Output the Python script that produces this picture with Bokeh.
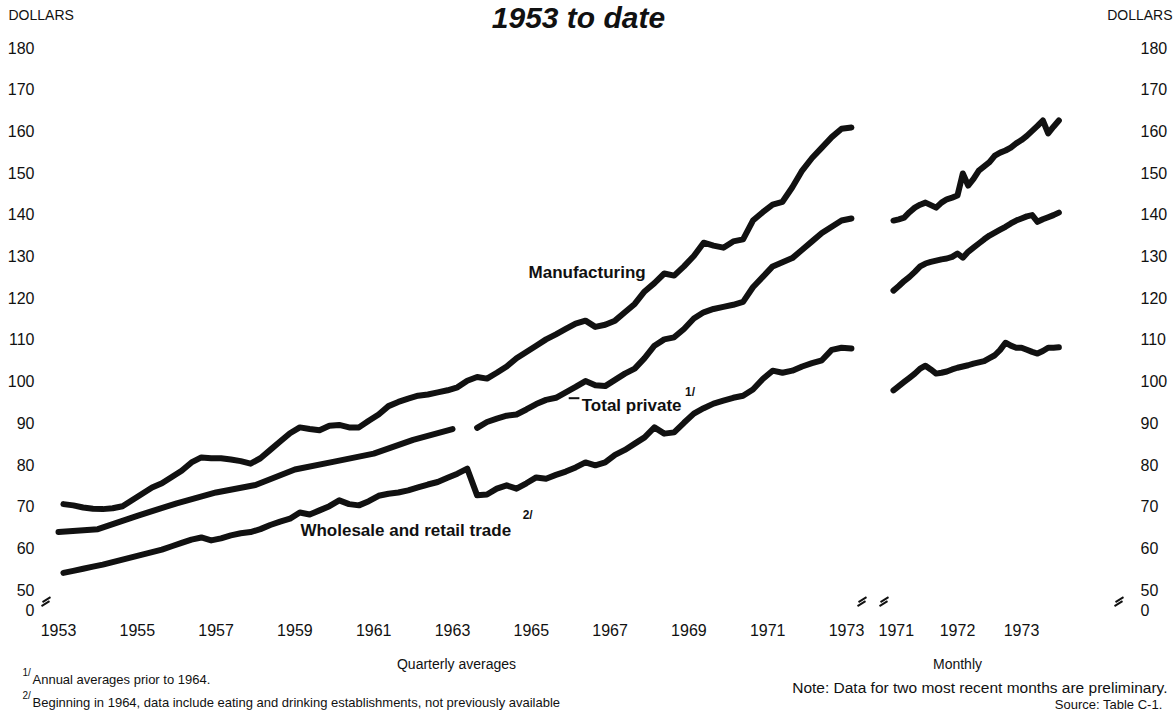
from bokeh.plotting import figure
from bokeh.layouts import column, row
from bokeh.models import Label, FixedTicker
from bokeh.embed import file_html
from bokeh.resources import INLINE

# ---------------- data ----------------
# Quarterly averages, 1953 Q3 - 1973 Q3
quarter_first = 1953.625          # mid-point of 1953 Q3
manufacturing_q = [
    70.5, 70.2,                 # 1953 Q3-Q4
    69.7, 69.4, 69.3, 69.5,     # 1954
    70.0, 71.5, 73.0, 74.5,     # 1955
    75.5, 77.0, 78.5, 80.5,     # 1956
    81.7, 81.5, 81.5, 81.2,     # 1957
    80.8, 80.2, 81.5, 83.5,     # 1958
    85.5, 87.5, 88.9, 88.5,     # 1959
    88.2, 89.3, 89.5, 88.9,     # 1960
    88.9, 90.5, 92.0, 94.0,     # 1961
    95.0, 95.8, 96.5, 96.8,     # 1962
    97.3, 97.8, 98.5, 100.1,    # 1963
    101.0, 100.6, 102.0, 103.5, # 1964
    105.5, 107.0, 108.5, 110.0, # 1965
    111.2, 112.5, 113.8, 114.5, # 1966
    113.0, 113.5, 114.5, 116.5, # 1967
    118.5, 121.5, 123.5, 125.8, # 1968
    125.3, 127.5, 130.0, 133.2, # 1969
    132.5, 132.0, 133.5, 134.0, # 1970
    138.5, 140.5, 142.3, 143.0, # 1971
    146.5, 150.5, 153.5, 156.0, # 1972
    158.5, 160.5, 160.8,        # 1973
]
wholesale_retail_q = [
    54.0, 54.5,                 # 1953 Q3-Q4
    55.0, 55.5, 56.0, 56.6,     # 1954
    57.2, 57.8, 58.4, 59.0,     # 1955
    59.6, 60.4, 61.2, 62.0,     # 1956
    62.5, 61.8, 62.3, 63.0,     # 1957
    63.5, 63.8, 64.5, 65.5,     # 1958
    66.3, 67.0, 68.5, 68.0,     # 1959
    69.0, 70.0, 71.4, 70.5,     # 1960
    70.2, 71.2, 72.5, 73.0,     # 1961
    73.3, 73.8, 74.5, 75.2,     # 1962
    75.8, 76.8, 77.8, 79.0,     # 1963
    72.6, 72.8, 74.2, 75.0,     # 1964
    74.2, 75.5, 76.9, 76.6,     # 1965
    77.5, 78.3, 79.3, 80.5,     # 1966
    79.8, 80.5, 82.3, 83.5,     # 1967
    85.0, 86.5, 88.9, 87.4,     # 1968
    87.7, 90.0, 92.2, 93.5,     # 1969
    94.6, 95.3, 96.0, 96.5,     # 1970
    98.0, 100.5, 102.5, 102.0,  # 1971
    102.5, 103.5, 104.3, 105.0, # 1972
    107.5, 108.0, 107.8,        # 1973
]
# Total private: annual averages prior to 1964, quarterly from 1964 Q1
total_private_annual_years = list(range(1953, 1964))
total_private_annual = [63.8, 64.5, 67.7, 70.7, 73.3, 75.1, 78.8, 80.7, 82.6, 85.9, 88.5]
total_private_q_first = 1964.125  # mid-point of 1964 Q1
total_private_q = [
    88.8, 90.2, 91.0, 91.7,     # 1964
    92.0, 93.2, 94.5, 95.5,     # 1965
    96.0, 97.3, 98.6, 100.0,    # 1966
    99.0, 98.8, 100.3, 101.8,   # 1967
    103.0, 105.5, 108.5, 110.0, # 1968
    110.5, 112.5, 115.0, 116.5, # 1969
    117.3, 117.8, 118.3, 119.0, # 1970
    122.5, 125.0, 127.5, 128.5, # 1971
    129.5, 131.5, 133.5, 135.5, # 1972
    137.0, 138.5, 139.0,        # 1973
]

# Monthly, Jan 1971 - Aug 1973
month_first = 1971.0
manufacturing_m = [
    138.5, 138.8, 139.2, 140.5, 141.6, 142.3, 142.8, 142.2, 141.6, 142.8, 143.6, 144.0,
    144.5, 149.8, 146.9, 148.5, 150.5, 151.5, 152.5, 154.1, 154.8, 155.3, 156.0, 157.0,
    157.8, 158.8, 160.0, 161.2, 162.5, 159.4, 161.0, 162.5,
]
total_private_m = [
    121.7, 122.8, 124.0, 125.0, 126.2, 127.5, 128.2, 128.6, 128.9, 129.2, 129.4, 129.8,
    130.6, 129.6, 131.0, 132.0, 133.0, 134.0, 134.9, 135.6, 136.3, 137.0, 137.8, 138.5,
    139.0, 139.5, 139.8, 138.2, 138.8, 139.3, 139.8, 140.4,
]
wholesale_retail_m = [
    97.8, 98.8, 99.8, 100.8, 101.8, 103.0, 103.7, 102.8, 101.8, 102.0, 102.3, 102.8,
    103.2, 103.5, 103.8, 104.2, 104.5, 104.8, 105.5, 106.2, 107.5, 109.2, 108.5, 108.0,
    108.0, 107.5, 107.0, 106.6, 107.2, 108.0, 108.0, 108.1,
]

quarterly_tick_years = list(range(1953, 1974, 2))
monthly_tick_years = [1971, 1972, 1973]
y_ticks = [45] + list(range(50, 190, 10))
y_tick_labels = {45: "0"}

# ---------------- derived x positions ----------------
q_x = [quarter_first + i * 0.25 for i in range(len(manufacturing_q))]
tp_q_x = [total_private_q_first + i * 0.25 for i in range(len(total_private_q))]
tp_a_x = [yr + 0.5 for yr in total_private_annual_years]
m_x = [month_first + i / 12 for i in range(len(manufacturing_m))]

# ---------------- styling ----------------
FONT = "Liberation Sans"
INK = "#111111"
LW = 6

Y_RANGE = (43.07, 181.68)
LEFT_X = (1953.043, 1974.16)
RIGHT_X = (1970.766, 1974.609)
HEAD_H = 36
TOP, BOTTOM, FRAME_H = 4, 30, 578
H = TOP + FRAME_H + BOTTOM
LEFT_FRAME_W, RIGHT_FRAME_W = 832, 246


def style(p):
    p.outline_line_color = None
    p.grid.grid_line_color = None
    p.background_fill_color = "white"
    p.border_fill_color = "white"
    for ax in p.axis:
        ax.axis_line_color = None
        ax.major_tick_line_color = None
        ax.minor_tick_line_color = None
        ax.major_tick_out = 0
        ax.major_tick_in = 0
        ax.major_label_text_font = FONT
        ax.major_label_text_font_size = "16px"
        ax.major_label_text_color = INK


def break_marks(p, x, y, px_x, px_y):
    for k in (0, 1):
        yy = y - k * 4 * px_y
        xx = x - k * 1 * px_x
        p.segment(x0=[xx - 4 * px_x], y0=[yy - 2.5 * px_y], x1=[xx + 4 * px_x], y1=[yy + 2.5 * px_y],
                  line_color=INK, line_width=2)


def text_panel(width, height):
    f = figure(width=width, height=height, x_range=(0, width), y_range=(0, height), title=None,
               output_backend="svg", toolbar_location=None, x_axis_type=None, y_axis_type=None,
               min_border=0)
    f.outline_line_color = None
    f.grid.grid_line_color = None
    return f


line_kw = dict(line_color=INK, line_width=LW, line_join="round", line_cap="round")
y_px = (Y_RANGE[1] - Y_RANGE[0]) / FRAME_H

# ---------------- header ----------------
head = text_panel(1176, HEAD_H)
head.add_layout(Label(x=8, y=HEAD_H - 14, text="DOLLARS", text_font=FONT, text_font_size="14px",
                      text_color=INK, text_baseline="middle"))
head.add_layout(Label(x=1172, y=HEAD_H - 14, text="DOLLARS", text_font=FONT, text_font_size="14px",
                      text_color=INK, text_baseline="middle", text_align="right"))
head.add_layout(Label(x=578, y=HEAD_H - 17, text="1953 to date", text_font=FONT, text_font_style="bold italic",
                      text_font_size="30px", text_color=INK, text_align="center",
                      text_baseline="middle"))

# ---------------- left panel: quarterly ----------------
p1 = figure(width=878, height=H, x_range=LEFT_X, y_range=Y_RANGE, title=None,
            output_backend="svg", toolbar_location=None,
            min_border_left=40, min_border_right=6, min_border_top=TOP, min_border_bottom=BOTTOM)
style(p1)
p1.xaxis.ticker = FixedTicker(ticks=[yr + 0.5 for yr in quarterly_tick_years])
p1.xaxis.major_label_overrides = {yr + 0.5: str(yr) for yr in quarterly_tick_years}
p1.xaxis.major_label_standoff = 5
p1.yaxis.ticker = FixedTicker(ticks=y_ticks)
p1.yaxis.major_label_overrides = y_tick_labels
p1.yaxis.major_label_standoff = 6

p1.line(q_x, manufacturing_q, **line_kw)
p1.line(q_x, wholesale_retail_q, **line_kw)
p1.line(tp_a_x, total_private_annual, **line_kw)
p1.line(tp_q_x, total_private_q, **line_kw)

lx_px = (LEFT_X[1] - LEFT_X[0]) / LEFT_FRAME_W
break_marks(p1, LEFT_X[0] + 6 * lx_px, 47.6, lx_px, y_px)
break_marks(p1, LEFT_X[1] - 10 * lx_px, 47.6, lx_px, y_px)

lab_kw = dict(text_font=FONT, text_font_style="bold", text_color=INK, text_baseline="middle")
p1.add_layout(Label(x=1965.43, y=126.0, text="Manufacturing", text_font_size="17px", **lab_kw))
p1.add_layout(Label(x=1966.78, y=94.1, text="Total private", text_font_size="17px", **lab_kw))
p1.add_layout(Label(x=1969.40, y=97.4, text="1/", text_font_size="12px", **lab_kw))
p1.segment(x0=[1966.45], y0=[95.9], x1=[1966.72], y1=[95.9], line_color=INK, line_width=2)
p1.add_layout(Label(x=1959.64, y=64.2, text="Wholesale and retail trade", text_font_size="17px", **lab_kw))
p1.add_layout(Label(x=1965.28, y=67.8, text="2/", text_font_size="12px", **lab_kw))

# ---------------- right panel: monthly ----------------
p2 = figure(width=298, height=H, x_range=RIGHT_X, y_range=Y_RANGE, title=None,
            output_backend="svg", toolbar_location=None, y_axis_location="right",
            min_border_left=0, min_border_right=52, min_border_top=TOP, min_border_bottom=BOTTOM)
style(p2)
p2.xaxis.ticker = FixedTicker(ticks=monthly_tick_years)
p2.xaxis.major_label_overrides = {yr: str(yr) for yr in monthly_tick_years}
p2.xaxis.major_label_standoff = 5
p2.yaxis.ticker = FixedTicker(ticks=y_ticks)
p2.yaxis.major_label_overrides = y_tick_labels
p2.yaxis.major_label_standoff = 16

p2.line(m_x, manufacturing_m, **line_kw)
p2.line(m_x, total_private_m, **line_kw)
p2.line(m_x, wholesale_retail_m, **line_kw)

rx_px = (RIGHT_X[1] - RIGHT_X[0]) / RIGHT_FRAME_W
break_marks(p2, RIGHT_X[0] + 6 * rx_px, 47.6, rx_px, y_px)
break_marks(p2, RIGHT_X[1] - 5 * rx_px, 47.6, rx_px, y_px)

# ---------------- footer with axis captions and notes ----------------
foot = text_panel(1176, 67)
note_kw = dict(text_font=FONT, text_color=INK, text_baseline="middle")
foot.add_layout(Label(x=456, y=52, text="Quarterly averages", text_font_size="14px", text_align="center", **note_kw))
foot.add_layout(Label(x=957, y=52, text="Monthly", text_font_size="14px", text_align="center", **note_kw))
foot.add_layout(Label(x=22, y=43, text="1/", text_font_size="10px", **note_kw))
foot.add_layout(Label(x=32, y=36, text="Annual averages prior to 1964.", text_font_size="13px", **note_kw))
foot.add_layout(Label(x=22, y=20, text="2/", text_font_size="10px", **note_kw))
foot.add_layout(Label(x=32, y=13, text="Beginning in 1964, data include eating and drinking establishments, not previously available",
                      text_font_size="13px", **note_kw))
foot.add_layout(Label(x=1167, y=28, text="Note: Data for two most recent months are preliminary.",
                      text_font_size="15.5px", text_align="right", **note_kw))
foot.add_layout(Label(x=1162, y=11, text="Source: Table C-1.", text_font_size="13px", text_align="right", **note_kw))

layout = column(head, row(p1, p2), foot)
open("out.html", "w").write(file_html(layout, INLINE))
